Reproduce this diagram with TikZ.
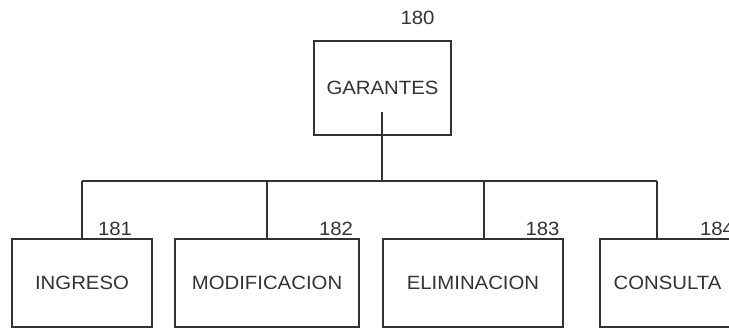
\documentclass[tikz,border=0pt]{standalone}
\usepackage{fontspec}
\setmainfont{Liberation Sans}[FakeStretch=1.06]
\definecolor{ink}{gray}{0.2}
\begin{document}
\begin{tikzpicture}[x=1pt,y=-1pt,
  box/.style={draw=ink,line width=1.2pt,text=ink,inner sep=0pt,font=\fontsize{19.2}{21}\selectfont},
  num/.style={text=ink,inner sep=0pt,font=\fontsize{19.2}{21}\selectfont},
  link/.style={draw=ink,line width=1.2pt}]
\useasboundingbox (0,0) rectangle (729,328);
\clip (0,0) rectangle (729,328);
\node[box,minimum width=137pt,minimum height=94pt] (top) at (382.5,88) {GARANTES};
\node[num] (n180) at (417.5,18) {180};
\node[box,minimum width=140pt,minimum height=88pt] (ing) at (82,283) {INGRESO};
\node[box,minimum width=184pt,minimum height=88pt] (mod) at (267,283) {MODIFICACION};
\node[box,minimum width=180pt,minimum height=88pt] (eli) at (473,283) {ELIMINACION};
\node[box,minimum width=135pt,minimum height=88pt] (con) at (667.5,283) {CONSULTA};
\node[num] (n181) at (115,229) {181};
\node[num] (n182) at (336,229) {182};
\node[num] (n183) at (542.5,229) {183};
\node[num] (n184) at (717,229) {184};
\coordinate (s) at (382,112);
\coordinate (bar) at (382,181);
\coordinate (j1) at (82,181);
\coordinate (j2) at (267,181);
\coordinate (j3) at (484,181);
\coordinate (j4) at (657,181);
\draw[link] (s) -- (bar);
\draw[link] (j1) -- (j4);
\draw[link] (j1) -- (j1 |- ing.north);
\draw[link] (j2) -- (j2 |- mod.north);
\draw[link] (j3) -- (j3 |- eli.north);
\draw[link] (j4) -- (j4 |- con.north);
\end{tikzpicture}
\end{document}
